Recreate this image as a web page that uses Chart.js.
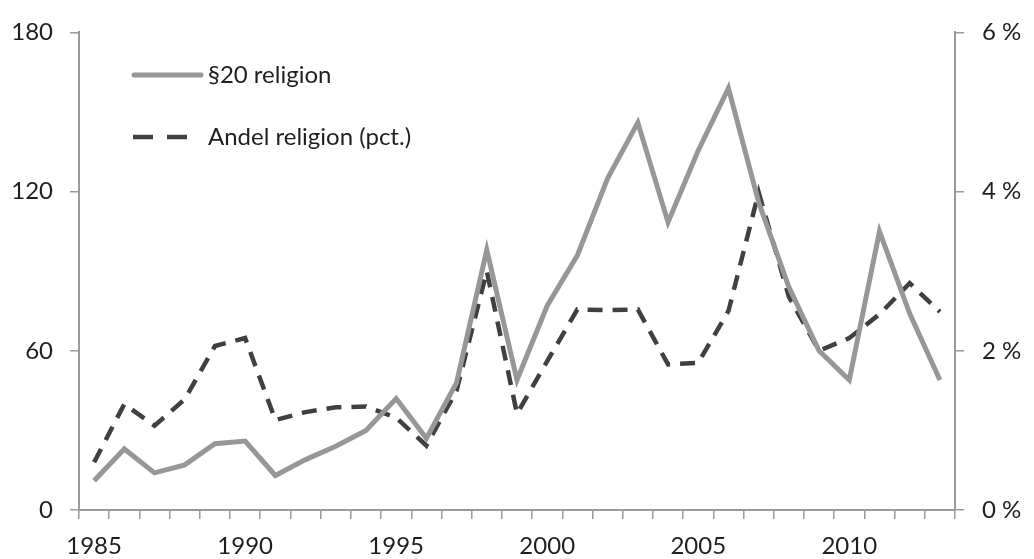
<!DOCTYPE html>
<html>
<head>
<meta charset="utf-8">
<script src="https://cdn.jsdelivr.net/npm/chart.js@4/dist/chart.umd.min.js"></script>
<style>
  html, body { margin: 0; padding: 0; background: #fff; }
  #wrap { width: 1034px; height: 559px; }
</style>
</head>
<body>
<div id="wrap"><canvas id="c" width="1034" height="559"></canvas></div>
<script>
// data
const years = [1985, 1986, 1987, 1988, 1989, 1990, 1991, 1992, 1993, 1994,
               1995, 1996, 1997, 1998, 1999, 2000, 2001, 2002, 2003, 2004,
               2005, 2006, 2007, 2008, 2009, 2010, 2011, 2012, 2013];
// §20 religion (count, left axis)
const paragraph20 = [11, 23, 14, 17, 25, 26, 13, 19, 24, 30,
                     42, 27, 48, 98, 49, 77, 96, 125, 146, 108.5,
                     135.5, 159, 116, 84, 60, 49, 105, 74, 49];
// Andel religion (pct., right axis)
const andelPct = [0.60, 1.33, 1.06, 1.39, 2.06, 2.16, 1.13, 1.23, 1.29, 1.30,
                  1.16, 0.81, 1.50, 3.00, 1.21, 1.87, 2.52, 2.51, 2.52, 1.83,
                  1.85, 2.50, 3.99, 2.68, 2.00, 2.16, 2.46, 2.85, 2.49];
const leftTicks = [0, 60, 120, 180];
const rightTicks = [0, 2, 4, 6];

const FONT = "Lato, 'Open Sans', sans-serif";
const INK = "#1f1f1f";
const AXIS = "#9a9a9a";
const SOLID = "#979797";
const DASH = "#404040";

// legend drawn inside the plot, top-left, like the original
const legendInside = {
  id: "legendInside",
  afterDraw(chart) {
    const ctx = chart.ctx;
    ctx.save();
    ctx.lineCap = "round";
    ctx.strokeStyle = SOLID; ctx.lineWidth = 5;
    ctx.beginPath(); ctx.moveTo(134, 75); ctx.lineTo(201, 75); ctx.stroke();
    ctx.strokeStyle = DASH; ctx.lineWidth = 4.5; ctx.lineCap = "butt";
    ctx.setLineDash([20, 14]);
    ctx.beginPath(); ctx.moveTo(133, 137); ctx.lineTo(188, 137); ctx.stroke();
    ctx.setLineDash([]);
    ctx.fillStyle = INK;
    ctx.font = "24px " + FONT;
    ctx.textBaseline = "middle";
    ctx.fillText("§20 religion", 208, 75);
    ctx.fillText("Andel religion (pct.)", 208, 137);
    ctx.restore();
  },
};

new Chart(document.getElementById("c"), {
  type: "line",
  data: {
    labels: years,
    datasets: [
      { label: "§20 religion", data: paragraph20, yAxisID: "y",
        borderColor: SOLID, borderWidth: 5, pointRadius: 0, tension: 0 },
      { label: "Andel religion (pct.)", data: andelPct, yAxisID: "y1",
        borderColor: DASH, borderWidth: 4.5, borderDash: [15, 10], pointRadius: 0, tension: 0 },
    ],
  },
  options: {
    responsive: false, animation: false,
    layout: { padding: { top: 29, left: 0, right: 0, bottom: 0 } },
    plugins: { legend: { display: false }, tooltip: { enabled: false } },
    scales: {
      x: {
        offset: true,
        grid: { offset: true, drawOnChartArea: false, color: AXIS, lineWidth: 1.5, tickLength: 9 },
        border: { color: AXIS, width: 2 },
        ticks: {
          autoSkip: false, maxRotation: 0, padding: 13, color: INK, font: { family: FONT, size: 24 },
          callback(v, i) { return years[i] % 5 === 0 ? String(years[i]) : ""; },
        },
        afterFit(s) { s.height = 49; },
      },
      y: {
        position: "left", min: 0, max: 180,
        afterBuildTicks(s) { s.ticks = leftTicks.map(v => ({ value: v })); },
        grid: { drawOnChartArea: false, color: AXIS, lineWidth: 1.5, tickLength: 9 },
        border: { color: AXIS, width: 2 },
        ticks: { padding: 17, color: INK, font: { family: FONT, size: 24 } },
        afterFit(s) { s.width = 79; },
      },
      y1: {
        position: "right", min: 0, max: 6,
        afterBuildTicks(s) { s.ticks = rightTicks.map(v => ({ value: v })); },
        grid: { drawOnChartArea: false, color: AXIS, lineWidth: 1.5, tickLength: 9 },
        border: { color: AXIS, width: 2 },
        ticks: { padding: 18, color: INK, font: { family: FONT, size: 24 }, callback: v => v + " %" },
        afterFit(s) { s.width = 79; },
      },
    },
  },
  plugins: [legendInside],
});
</script>
</body>
</html>
